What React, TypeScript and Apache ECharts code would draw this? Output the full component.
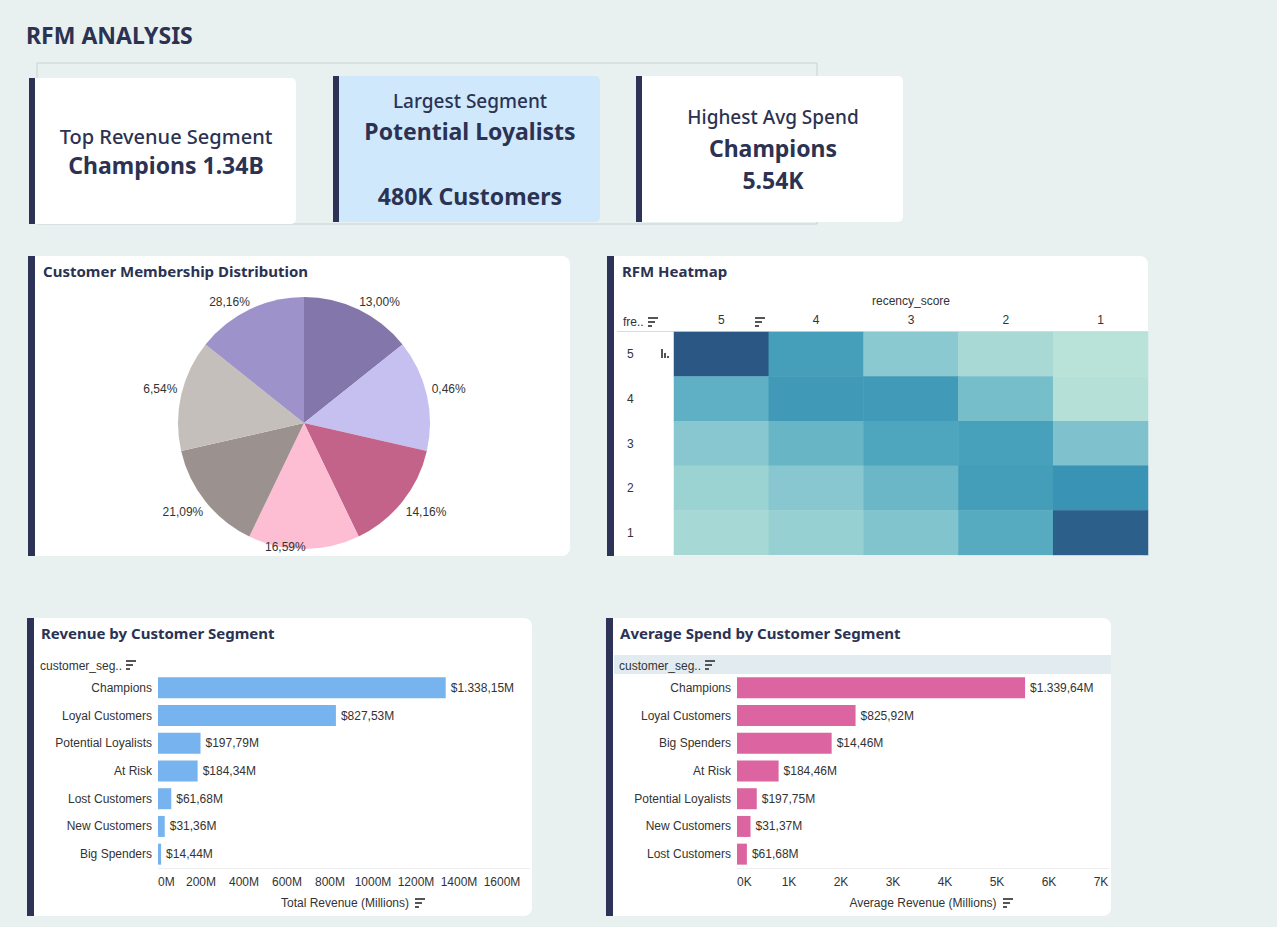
import React, { useEffect, useRef } from "react";
import * as echarts from "echarts";

// ---------- DATA ----------
const kpiHeadings = ["Top Revenue Segment", "Largest Segment", "Highest Avg Spend"];
const kpiLinesA = ["Champions 1.34B", "Potential Loyalists", "Champions"];
const kpiLinesB = ["", "480K Customers", "5.54K"];

const membershipShares = [13.0, 0.46, 14.16, 16.59, 21.09, 6.54, 28.16];
const membershipSliceWeights = [1, 1, 1, 1, 1, 1, 1];

const recencyScores = ["5", "4", "3", "2", "1"];
const frequencyScores = ["1", "2", "3", "4", "5"];
// rows: frequency 5 -> 1 ; columns: recency 5 -> 1
const heatmapByFrequency = [
  [100, 62, 34, 20, 12],
  [50, 66, 65, 42, 14],
  [35, 47, 57, 60, 39],
  [26, 35, 46, 63, 70],
  [21, 28, 38, 53, 96],
];

const revenueSegments = ["Champions", "Loyal Customers", "Potential Loyalists", "At Risk", "Lost Customers", "New Customers", "Big Spenders"];
const revenueMillions = [1338.15, 827.53, 197.79, 184.34, 61.68, 31.36, 14.44];

const avgSegments = ["Champions", "Loyal Customers", "Big Spenders", "At Risk", "Potential Loyalists", "New Customers", "Lost Customers"];
const avgSpendK = [5.54, 2.28, 1.82, 0.8, 0.38, 0.26, 0.19];
const avgSpendLabels = ["$1.339,64M", "$825,92M", "$14,46M", "$184,46M", "$197,75M", "$31,37M", "$61,68M"];

// ---------- STYLE ----------
const NAVY = "#2c3356";
const TITLE = "#2b3252";
const SANS = '"Noto Sans"';
const AX = "Liberation Sans";
const pieColors = ["#8276ab", "#c5c0ef", "#c4638a", "#fdbed3", "#9b918e", "#c5bfbc", "#9d92c9"];

function fmtEU(v: number): string {
  const fixed = v.toFixed(2);
  const [ip, dp] = fixed.split(".");
  const withDots = ip.replace(/\B(?=(\d{3})+(?!\d))/g, ".");
  return withDots + "," + dp;
}

function txt(x: number, y: number, text: string, font: string, fill: string, align = "left") {
  return {
    type: "text",
    x,
    y,
    silent: true,
    style: { text, font, fill, align, verticalAlign: "middle", textAlign: align, textVerticalAlign: "middle" },
  };
}

function sortIcon(x: number, y: number) {
  return {
    type: "group",
    x,
    y,
    silent: true,
    children: [
      { type: "rect", shape: { x: 0, y: 0, width: 10, height: 2 }, style: { fill: "#555" } },
      { type: "rect", shape: { x: 0, y: 4, width: 7, height: 2 }, style: { fill: "#555" } },
      { type: "rect", shape: { x: 0, y: 8, width: 4, height: 2 }, style: { fill: "#555" } },
    ],
  };
}

function panel(x: number, y: number, w: number, h: number, fill = "#ffffff") {
  return [
    { type: "rect", silent: true, shape: { x, y, width: w, height: h, r: [0, 8, 8, 0] }, style: { fill } },
    { type: "rect", silent: true, shape: { x, y, width: 7, height: h }, style: { fill: NAVY } },
  ];
}

export default function App() {
  const ref = useRef<HTMLDivElement>(null);

  useEffect(() => {
    if (!ref.current) return;
    const chart = echarts.init(ref.current, undefined, { renderer: "svg" });

    const cardX = [29, 333, 636];
    const cardY = [78, 76, 76];
    const cardFill = ["#ffffff", "#d0e8fc", "#ffffff"];

    const graphics: any[] = [];
    graphics.push(txt(26, 35, "RFM ANALYSIS", `bold 23px ${SANS}`, TITLE));
    graphics.push({ type: "rect", silent: true, shape: { x: 37, y: 63, width: 780, height: 161 }, style: { fill: "none", stroke: "#c9d2d3", lineWidth: 1 } });
    cardX.forEach((cx, i) => {
      graphics.push({ type: "rect", silent: true, shape: { x: cx, y: cardY[i], width: 267, height: 146, r: [0, 5, 5, 0] }, style: { fill: cardFill[i] } });
      graphics.push({ type: "rect", silent: true, shape: { x: cx, y: cardY[i], width: 6, height: 146 }, style: { fill: NAVY } });
    });
    // card texts
    graphics.push(txt(166, 136, kpiHeadings[0], `500 20px ${SANS}`, TITLE, "center"));
    graphics.push(txt(166, 165, kpiLinesA[0], `bold 23px ${SANS}`, TITLE, "center"));
    graphics.push(txt(470, 101, kpiHeadings[1], `500 19px ${SANS}`, TITLE, "center"));
    graphics.push(txt(470, 131, kpiLinesA[1], `bold 23px ${SANS}`, TITLE, "center"));
    graphics.push(txt(470, 196, kpiLinesB[1], `bold 23px ${SANS}`, TITLE, "center"));
    graphics.push(txt(773, 117, kpiHeadings[2], `500 19px ${SANS}`, TITLE, "center"));
    graphics.push(txt(773, 148, kpiLinesA[2], `bold 23px ${SANS}`, TITLE, "center"));
    graphics.push(txt(773, 180, kpiLinesB[2], `bold 23px ${SANS}`, TITLE, "center"));

    // panels
    graphics.push(...panel(28, 256, 542, 300));
    graphics.push(...panel(607, 256, 541, 300));
    graphics.push(...panel(27, 618, 505, 298));
    graphics.push(...panel(606, 618, 505, 298));

    graphics.push(txt(43, 271, "Customer Membership Distribution", `bold 15px ${SANS}`, TITLE));
    graphics.push(txt(622, 271, "RFM Heatmap", `bold 15px ${SANS}`, TITLE));
    graphics.push(txt(41, 633, "Revenue by Customer Segment", `bold 15px ${SANS}`, TITLE));
    graphics.push(txt(620, 633, "Average Spend by Customer Segment", `bold 15px ${SANS}`, TITLE));

    // heatmap header pieces
    graphics.push({ type: "line", silent: true, shape: { x1: 617, y1: 331.5, x2: 1148, y2: 331.5 }, style: { stroke: "#dcdcdc", lineWidth: 1 } });
    graphics.push(txt(623, 322, "fre..", `12px ${AX}`, "#333"));
    graphics.push(sortIcon(648, 317));
    graphics.push(sortIcon(755, 317));
    graphics.push({
      type: "group", x: 661, y: 349, silent: true,
      children: [
        { type: "rect", shape: { x: 0, y: 0, width: 2, height: 9 }, style: { fill: "#555" } },
        { type: "rect", shape: { x: 3, y: 4, width: 2, height: 5 }, style: { fill: "#555" } },
        { type: "rect", shape: { x: 6, y: 7, width: 2, height: 2 }, style: { fill: "#555" } },
      ],
    });

    // bar chart headers
    graphics.push(txt(40, 666, "customer_seg..", `12px ${AX}`, "#333"));
    graphics.push(sortIcon(126, 660));
    graphics.push({ type: "rect", silent: true, shape: { x: 614, y: 655, width: 497, height: 19 }, style: { fill: "#e2ecf0" } });
    graphics.push(txt(619, 666, "customer_seg..", `12px ${AX}`, "#333"));
    graphics.push(sortIcon(705, 660));
    graphics.push({ type: "line", silent: true, shape: { x1: 158, y1: 868.5, x2: 530, y2: 868.5 }, style: { stroke: "#eeeeee", lineWidth: 1 } });
    graphics.push({ type: "line", silent: true, shape: { x1: 737, y1: 868.5, x2: 1110, y2: 868.5 }, style: { stroke: "#eeeeee", lineWidth: 1 } });
    graphics.push(txt(345, 903, "Total Revenue (Millions)", `12px ${AX}`, "#333", "center"));
    graphics.push(sortIcon(415, 898));
    graphics.push(txt(923, 903, "Average Revenue (Millions)", `12px ${AX}`, "#333", "center"));
    graphics.push(sortIcon(1003, 898));

    const heatData: number[][] = [];
    heatmapByFrequency.forEach((row, ri) => {
      const freq = String(5 - ri);
      row.forEach((v, ci) => {
        heatData.push([ci, frequencyScores.indexOf(freq), v]);
      });
    });

    const axisLbl = { color: "#333", fontSize: 12, fontFamily: AX };

    const option: any = {
      animation: false,
      backgroundColor: "#e8f1f0",
      textStyle: { fontFamily: AX },
      graphic: { elements: graphics },
      visualMap: {
        show: false,
        seriesIndex: 1,
        min: 10,
        max: 100,
        inRange: { color: ["#bde4da", "#9dd4d3", "#7dc1cd", "#50a8bf", "#3993b4", "#31749b", "#2b5785"] },
      },
      grid: [
        { left: 674, top: 332, width: 474, height: 223 },
        { left: 158, top: 674, width: 344, height: 194 },
        { left: 737, top: 674, width: 364, height: 194 },
      ],
      xAxis: [
        {
          type: "category", gridIndex: 0, data: recencyScores, position: "top",
          axisLine: { show: false }, axisTick: { show: false }, splitLine: { show: false },
          axisLabel: { ...axisLbl, margin: 6 },
          name: "recency_score", nameLocation: "middle", nameGap: 25,
          nameTextStyle: { color: "#333", fontSize: 12, fontFamily: AX },
        },
        {
          type: "value", gridIndex: 1, min: 0, max: 1600, interval: 200,
          axisLine: { show: false }, axisTick: { show: false }, splitLine: { show: false },
          axisLabel: { ...axisLbl, margin: 8, formatter: (v: number) => v + "M", alignMinLabel: "left" },
        },
        {
          type: "value", gridIndex: 2, min: 0, max: 7, interval: 1,
          axisLine: { show: false }, axisTick: { show: false }, splitLine: { show: false },
          axisLabel: { ...axisLbl, margin: 8, formatter: (v: number) => v + "K", alignMinLabel: "left" },
        },
      ],
      yAxis: [
        {
          type: "category", gridIndex: 0, data: frequencyScores,
          axisLine: { show: false }, axisTick: { show: false }, splitLine: { show: false },
          axisLabel: { ...axisLbl, align: "left", margin: 47 },
        },
        {
          type: "category", gridIndex: 1, data: revenueSegments, inverse: true,
          axisLine: { show: false }, axisTick: { show: false },
          axisLabel: { ...axisLbl, margin: 6 },
        },
        {
          type: "category", gridIndex: 2, data: avgSegments, inverse: true,
          axisLine: { show: false }, axisTick: { show: false },
          axisLabel: { ...axisLbl, margin: 6 },
        },
      ],
      series: [
        {
          type: "pie",
          center: [304, 423],
          radius: 126,
          startAngle: 90,
          clockwise: true,
          silent: true,
          avoidLabelOverlap: false,
          data: membershipSliceWeights.map((w, i) => ({
            value: w,
            name: "m" + i,
            itemStyle: { color: pieColors[i] },
          })),
          label: {
            show: true,
            position: "outside",
            color: "#333",
            fontSize: 12,
            fontFamily: AX,
            formatter: (p: any) => fmtEU(membershipShares[p.dataIndex]) + "%",
          },
          labelLine: { show: false, length: 8, length2: 0 },
          labelLayout: (p: any) => {
            if (p.dataIndex === 3) return { dy: -10, dx: -44 };
            const left = p.labelRect && p.rect ? p.labelRect.x + p.labelRect.width / 2 < p.rect.x + p.rect.width / 2 : false;
            const dyMap: Record<number, number> = { 1: -4, 2: 5, 4: 5, 5: -4 };
            return { dx: left ? 9 : -8, dy: dyMap[p.dataIndex] || 0 };
          },
        },
        {
          type: "heatmap",
          xAxisIndex: 0,
          yAxisIndex: 0,
          data: heatData,
          silent: true,
          itemStyle: { borderWidth: 0 },
        },
        {
          type: "bar",
          xAxisIndex: 1,
          yAxisIndex: 1,
          data: revenueMillions,
          barWidth: 21,
          silent: true,
          itemStyle: { color: "#76b3ef" },
          label: {
            show: true, position: "right", distance: 5, color: "#333", fontSize: 12, fontFamily: AX,
            formatter: (p: any) => "$" + fmtEU(p.value) + "M",
          },
        },
        {
          type: "bar",
          xAxisIndex: 2,
          yAxisIndex: 2,
          data: avgSpendK,
          barWidth: 21,
          silent: true,
          itemStyle: { color: "#dc64a0" },
          label: {
            show: true, position: "right", distance: 5, color: "#333", fontSize: 12, fontFamily: AX,
            formatter: (p: any) => avgSpendLabels[p.dataIndex],
          },
        },
      ],
    };

    chart.setOption(option);
    return () => chart.dispose();
  }, []);

  return <div ref={ref} style={{ position: "fixed", left: 0, top: 0, width: 1277, height: 927 }} />;
}
